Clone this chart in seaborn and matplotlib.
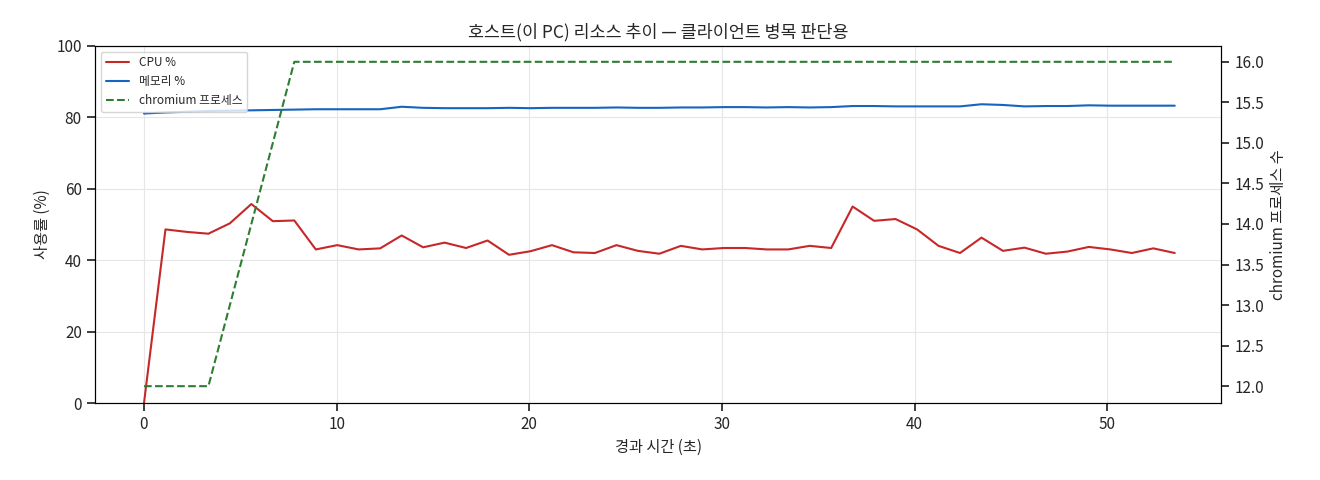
import matplotlib
matplotlib.use("Agg")
import matplotlib.pyplot as plt
import seaborn as sns
import numpy as np
import pandas as pd

sns.set_theme(style="ticks")
plt.rcParams['font.family'] = ['Noto Sans CJK KR', 'DejaVu Sans']

n = 49
t = [round(i * 53.5 / 48, 3) for i in range(n)]
cpu = [0, 48.6, 47.9, 47.4, 50.3, 55.7, 50.9, 51.1, 43.0, 44.2, 43.0, 43.3, 46.9, 43.6, 44.9, 43.4,
       45.5, 41.5, 42.5, 44.2, 42.2, 42.0, 44.2, 42.6, 41.8, 44.0, 43.0, 43.4, 43.4, 43.0, 43.0, 44.0,
       43.4, 55.0, 51.0, 51.5, 48.6, 44.0, 42.0, 46.3, 42.6, 43.5, 41.8, 42.4, 43.7, 43.0, 42.0, 43.3, 42.0]
mem = [81.0, 81.3, 81.5, 81.7, 81.8, 81.9, 82.0, 82.1, 82.2, 82.2, 82.2, 82.2, 82.9, 82.6, 82.5, 82.5,
       82.5, 82.6, 82.5, 82.6, 82.6, 82.6, 82.7, 82.6, 82.6, 82.7, 82.7, 82.8, 82.8, 82.7, 82.8, 82.7,
       82.8, 83.1, 83.1, 83.0, 83.0, 83.0, 83.0, 83.6, 83.4, 83.0, 83.1, 83.1, 83.3, 83.2, 83.2, 83.2, 83.2]
chrom = [12, 12, 12, 12, 13, 14, 15, 16] + [16] * (n - 8)

df = pd.DataFrame({"t": t, "cpu": cpu, "mem": mem, "chrom": chrom})

fig, ax = plt.subplots(figsize=(13.2, 4.8), dpi=100)
ax2 = ax.twinx()
sns.lineplot(data=df, x="t", y="cpu", ax=ax, color="#c62828", lw=1.5, label="CPU %", legend=False)
sns.lineplot(data=df, x="t", y="mem", ax=ax, color="#1565c0", lw=1.5, label="메모리 %", legend=False)
sns.lineplot(data=df, x="t", y="chrom", ax=ax2, color="#2e7d32", lw=1.5, ls="--",
             label="chromium 프로세스", legend=False)

ax.set_ylim(0, 100)
ax.set_xlim(-2.54, 55.9)
ax2.set_ylim(11.79, 16.2)
ax.grid(True, color="#e6e6e6", lw=0.8)
ax.set_xlabel("경과 시간 (초)", fontsize=11)
ax.set_ylabel("사용률 (%)", fontsize=11)
ax2.set_ylabel("chromium 프로세스 수", fontsize=11)
ax.set_title("호스트(이 PC) 리소스 추이 — 클라이언트 병목 판단용", fontsize=12.5)
for a in (ax, ax2):
    a.tick_params(labelsize=11)
    for s in a.spines.values():
        s.set_color("black")
        s.set_linewidth(0.8)

h1, l1 = ax.get_legend_handles_labels()
h2, l2 = ax2.get_legend_handles_labels()
ax2.legend(h1 + h2, l1 + l2, loc="upper left", fontsize=8.5, frameon=True)

fig.subplots_adjust(left=0.072, right=0.925, top=0.905, bottom=0.16)
fig.savefig("out.png", dpi=100)
